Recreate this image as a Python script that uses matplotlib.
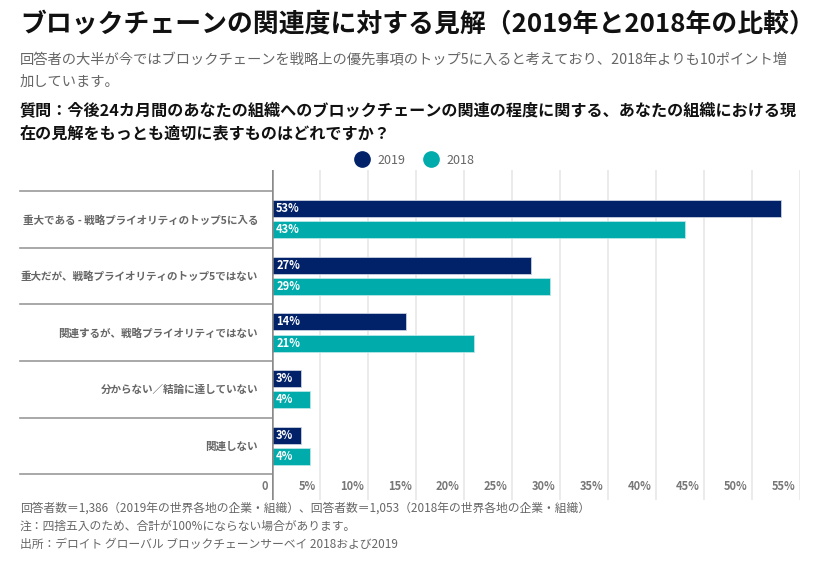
import matplotlib
matplotlib.use("Agg")
import matplotlib.pyplot as plt
import matplotlib.transforms as mtransforms
from matplotlib.lines import Line2D
import numpy as np

plt.rcParams['font.family'] = ['Noto Sans CJK JP', 'DejaVu Sans']

categories = [
    "重大である - 戦略プライオリティのトップ5に入る",
    "重大だが、戦略プライオリティのトップ5ではない",
    "関連するが、戦略プライオリティではない",
    "分からない／結論に達していない",
    "関連しない",
]
years = ["2019", "2018"]
values_2019 = [53, 27, 14, 3, 3]
values_2018 = [43, 29, 21, 4, 4]
xticks = [0, 5, 10, 15, 20, 25, 30, 35, 40, 45, 50, 55]

title = "ブロックチェーンの関連度に対する見解（2019年と2018年の比較）"
subtitle = ["回答者の大半が今ではブロックチェーンを戦略上の優先事項のトップ5に入ると考えており、2018年よりも10ポイント増",
            "加しています。"]
question = ["質問：今後24カ月間のあなたの組織へのブロックチェーンの関連の程度に関する、あなたの組織における現",
            "在の見解をもっとも適切に表すものはどれですか？"]
notes = ["回答者数＝1,386（2019年の世界各地の企業・組織）、回答者数＝1,053（2018年の世界各地の企業・組織）",
         "注：四捨五入のため、合計が100%にならない場合があります。",
         "出所：デロイト グローバル ブロックチェーンサーベイ 2018および2019"]

NAVY = "#012169"
TEAL = "#00ABAB"
GRAY = "#666666"

W, H = 832, 562
fig = plt.figure(figsize=(W / 100, H / 100), dpi=100)

def fx(px):
    return px / W

def fy(py):
    return 1 - py / H

# axes: x 272..800 px, y 170..500 px
ax = fig.add_axes([fx(272), fy(500), fx(800) - fx(272), fy(170) - fy(500)])
n = len(categories)
y = np.arange(n)
band = 57.0
ax.set_ylim(n - 0.5 + 26 / band, -0.5 - 21 / band)
ax.set_xlim(0, 55)

bh = 0.3
off = 0.19
b1 = ax.barh(y - off, values_2019, height=bh, color=NAVY, edgecolor="#c8d0e0", linewidth=0.6, zorder=3)
b2 = ax.barh(y + off, values_2018, height=bh, color=TEAL, edgecolor="#b8e6e6", linewidth=0.6, zorder=3)

for bars, vals in ((b1, values_2019), (b2, values_2018)):
    for rect, v in zip(bars, vals):
        ax.annotate(f"{v}%", (0, rect.get_y() + rect.get_height() / 2),
                    xytext=(3, 0), textcoords="offset points", ha="left", va="center",
                    color="white", fontsize=8, fontweight="bold", zorder=4)

# grid
for t in xticks[1:]:
    ax.axvline(t, color="#e8e8e8", linewidth=1.2, zorder=1)
ax.axvline(0, color="#8a8a8a", linewidth=1.8, zorder=5)

for s in ax.spines.values():
    s.set_visible(False)
ax.set_xticks([])
ax.set_yticks(y)
ax.set_yticklabels(categories, fontsize=7.6, fontweight="bold", color=GRAY)
ax.tick_params(axis="y", length=0, pad=10)

# x tick labels inside bottom, right of gridline
tr = mtransforms.blended_transform_factory(ax.transData, ax.transAxes)
for t in xticks:
    lab = "0" if t == 0 else f"{t}%"
    ax.annotate(lab, (t, 0), xycoords=tr, xytext=(-3, 13 * 0.75), textcoords="offset points",
                ha="right", va="center", fontsize=8, fontweight="bold", color="#777777")

# category separators to the left of the axis
trf = mtransforms.blended_transform_factory(fig.transFigure, ax.transData)
for b in np.arange(n + 1) - 0.5:
    ax.add_line(Line2D([fx(20), fx(272)], [b, b], transform=trf, color="#9a9a9a",
                       linewidth=1.2, clip_on=False))

# texts
fig.text(fx(20), fy(25), title, fontsize=18.6, fontweight="bold", color="#111111", va="center")
for i, s in enumerate(subtitle):
    fig.text(fx(20), fy(60 + 22 * i), s, fontsize=10.3, color=GRAY, va="center")
for i, s in enumerate(question):
    fig.text(fx(20), fy(110 + 24 * i), s, fontsize=11.6, fontweight="bold", color="#111111", va="center")
for i, s in enumerate(notes):
    fig.text(fx(20), fy(508 + 18 * i), s, fontsize=8.5, color=GRAY, va="center")

handles = [Line2D([], [], marker="o", linestyle="", markersize=11, color=c) for c in (NAVY, TEAL)]
fig.legend(handles, years, loc="center", bbox_to_anchor=(fx(412), fy(160)), ncol=2, frameon=False,
           fontsize=9, labelcolor=GRAY, handletextpad=0.3, columnspacing=1.0, borderaxespad=0)

fig.savefig("out.png", dpi=100)
